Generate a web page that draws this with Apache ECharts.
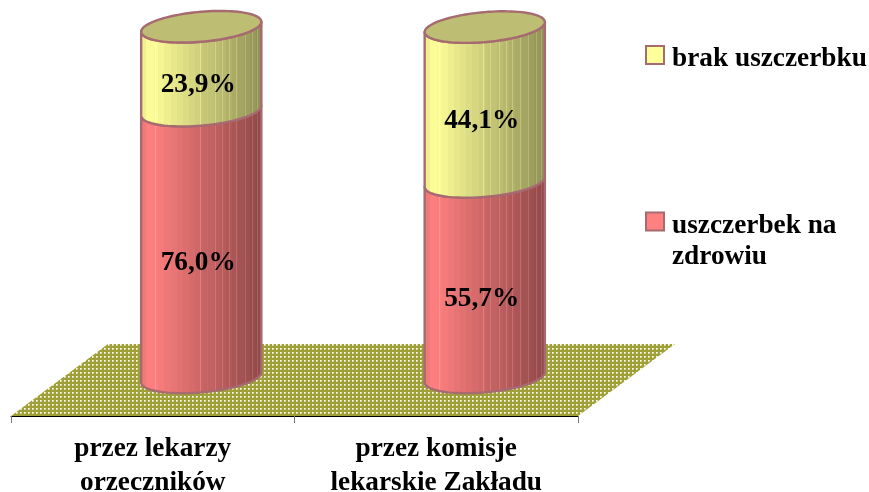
<!DOCTYPE html>
<html>
<head>
<meta charset="utf-8">
<style>html,body{margin:0;padding:0;background:#fff}#c{width:869px;height:492px}</style>
<script src="https://cdn.jsdelivr.net/npm/echarts@6/dist/echarts.min.js"></script>
</head>
<body>
<div id="c"></div>
<script>
var categories = ['przez lekarzy\norzeczników', 'przez komisje\nlekarskie Zakładu'];
var lowerName = 'uszczerbek na\nzdrowiu';
var upperName = 'brak uszczerbku';
var lowerValues = [76.0, 55.7];
var upperValues = [23.9, 44.1];

var FONT = 'bold 27.3px "Liberation Serif", "Times New Roman", serif';
var OUTLINE = '#a66b70';
var DEPTH_X = 97, DEPTH_Y = 72;
var RY = 15, SHEAR = 5;
var paleLines = [0.13, 0.49, 0.55, 0.62, 0.675, 0.73, 0.79, 0.86, 0.92, 0.96];

function mix(rgb, f, lift) {
  var c = rgb.map(function (v) { return Math.round(Math.min(255, v * f + lift)); });
  return 'rgb(' + c.join(',') + ')';
}
function shade(t) {
  if (t < 0.09) return 0.92 + 0.08 * t / 0.09;
  return 1 - 0.44 * (t - 0.09) / 0.91;
}
function bodyFill(rgb) {
  var n = 20, out = [];
  for (var j = 0; j < n; j++) {
    var s = j / n, e = (j + 1) / n, c = mix(rgb, shade((s + e) / 2), 0), cur = s;
    paleLines.forEach(function (p) {
      if (p >= s && p < e) {
        var l = mix(rgb, shade(p), 22);
        out.push({ offset: cur, color: c }, { offset: p - 0.004, color: c },
                 { offset: p - 0.004, color: l }, { offset: p + 0.004, color: l });
        cur = p + 0.004;
      }
    });
    out.push({ offset: cur, color: c }, { offset: e, color: c });
  }
  return new echarts.graphic.LinearGradient(0, 0, 1, 0, out);
}

function arcPoints(cx, cy, rx, front, reverse) {
  var pts = [], n = 48;
  for (var i = 0; i <= n; i++) {
    var t = (reverse ? n - i : i) / n * Math.PI * (front ? 1 : -1);
    pts.push([cx + rx * Math.cos(t), cy + RY * Math.sin(t) - SHEAR * Math.cos(t)]);
  }
  return pts;
}

function makeSegment(values, bases, rgb, capColor, labelDy) {
  return function (params, api) {
    var i = api.value(0);
    var base = bases ? bases[i] : 0;
    var val = values[i];
    var band = api.size([1, 0])[0];
    var rx = band * 0.212;
    var c0 = api.coord([i, base]);
    var c1 = api.coord([i, base + val]);
    var cx = c0[0] + DEPTH_X / 2;
    var y0 = c0[1], y1 = c1[1];
    var body = arcPoints(cx, y0, rx, true, false).concat(arcPoints(cx, y1, rx, true, true));
    var kids = [{
      type: 'polygon', shape: { points: body },
      style: { fill: bodyFill(rgb), stroke: OUTLINE, lineWidth: 2.4, lineJoin: 'round' }
    }];
    if (capColor) {
      kids.push({
        type: 'polygon',
        shape: { points: arcPoints(cx, y1, rx, true, false).concat(arcPoints(cx, y1, rx, false, true)) },
        style: { fill: capColor, stroke: OUTLINE, lineWidth: 2.4, lineJoin: 'round' }
      });
    }
    kids.push({
      type: 'text',
      style: {
        text: val.toFixed(1).replace('.', ',') + '%',
        x: cx - 3, y: (y0 + y1) / 2 + RY + labelDy,
        align: 'center', verticalAlign: 'middle', font: FONT, fill: '#000'
      }
    });
    return { type: 'group', children: kids };
  };
}

function floorPattern() {
  var cv = document.createElement('canvas');
  cv.width = 4; cv.height = 4;
  var g = cv.getContext('2d');
  g.fillStyle = '#a0a03a'; g.fillRect(0, 0, 4, 4);
  g.fillStyle = '#c8c880'; g.fillRect(0, 0, 2, 2);
  g.fillStyle = '#e2e2b4'; g.fillRect(1, 0, 1, 1); g.fillRect(0, 1, 1, 1);
  g.fillStyle = '#ffffff'; g.fillRect(0, 0, 1, 1);
  return cv;
}

var RICH_BASE = { color: '#000', fontFamily: '"Liberation Serif"', fontWeight: 'bold', fontSize: 27.3, lineHeight: 31 };
var LEGEND_TEXT = {
  color: '#000', fontFamily: '"Liberation Serif"', fontWeight: 'bold', fontSize: 27.3, padding: [0, 0, 0, 3],
  rich: {
    t: RICH_BASE,
    p: Object.assign({}, RICH_BASE, { padding: [7, 0, 0, 0] }),
    e: Object.assign({}, RICH_BASE, { lineHeight: 40 })
  }
};
var chart = echarts.init(document.getElementById('c'), null, { renderer: 'canvas' });
chart.setOption({
  animation: false,
  backgroundColor: '#fff',
  grid: { left: 11, right: 291, top: 26.4, bottom: 76, outerBoundsMode: 'none' },
  xAxis: {
    type: 'category', data: categories, boundaryGap: true,
    axisLine: { onZero: false, lineStyle: { color: '#000', width: 1 } },
    axisTick: { show: true, length: 7, lineStyle: { color: '#777', width: 1 } },
    axisLabel: { interval: 0, margin: 16, color: '#000', fontFamily: '"Liberation Serif"', fontWeight: 'bold', fontSize: 27.3, lineHeight: 34 },
    splitLine: { show: false }
  },
  yAxis: { type: 'value', min: -11, max: 100, show: false },
  legend: [
    {
      left: 645, top: 38, padding: 0, orient: 'vertical', data: [upperName], icon: 'rect', itemWidth: 18, itemHeight: 18,
      itemStyle: { borderColor: OUTLINE, borderWidth: 2 },
      formatter: function (n) { return '{p|' + n + '}'; },
      textStyle: LEGEND_TEXT,
      selectedMode: false
    },
    {
      left: 645, top: 177, padding: 0, orient: 'vertical', data: [lowerName], icon: 'rect', itemWidth: 18, itemHeight: 18,
      itemStyle: { borderColor: OUTLINE, borderWidth: 2 },
      formatter: function (n) {
        return '{e| }\n' + n.split('\n').map(function (s) { return '{t|' + s + '}'; }).join('\n');
      },
      textStyle: LEGEND_TEXT,
      selectedMode: false
    }
  ],
  series: [
    {
      type: 'custom', name: 'floor', z: 1, silent: true, data: [[0]],
      encode: { x: 0 },
      renderItem: function (params) {
        var s = params.coordSys;
        var b = s.y + s.height;
        return {
          type: 'polygon',
          shape: { points: [[s.x, b], [s.x + s.width, b], [s.x + s.width + DEPTH_X, b - DEPTH_Y], [s.x + DEPTH_X, b - DEPTH_Y]] },
          style: { fill: { image: floorPattern(), repeat: 'repeat' } }
        };
      }
    },
    {
      type: 'custom', name: lowerName, z: 2, data: lowerValues.map(function (v, i) { return [i, v]; }),
      itemStyle: { color: '#ff8080' }, encode: { x: 0, y: 1 },
      renderItem: makeSegment(lowerValues, null, [255, 128, 128], null, 4)
    },
    {
      type: 'custom', name: upperName, z: 3, data: upperValues.map(function (v, i) { return [i, v]; }),
      itemStyle: { color: '#ffff99' }, encode: { x: 0, y: 1 },
      renderItem: makeSegment(upperValues, lowerValues, [255, 255, 153], '#bdbd73', 1.5)
    }
  ]
});
</script>
</body>
</html>
